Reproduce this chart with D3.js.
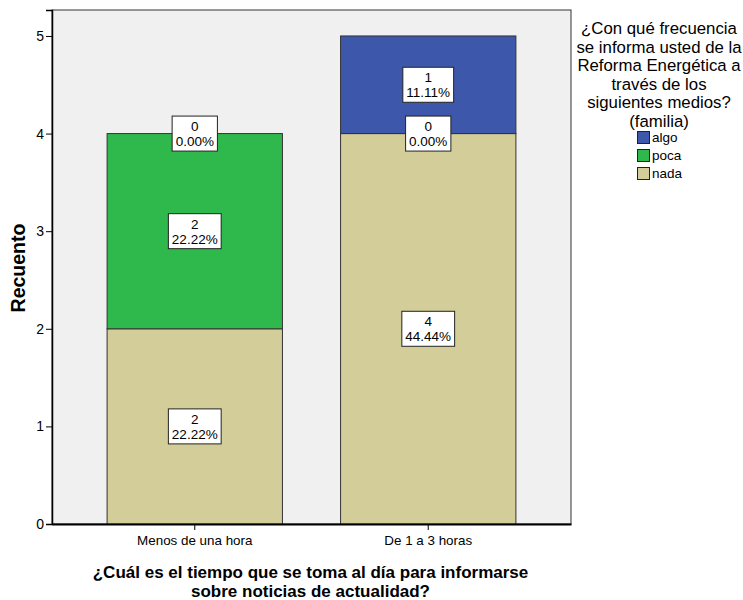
<!DOCTYPE html>
<html><head><meta charset="utf-8">
<script src="https://cdn.jsdelivr.net/npm/d3@7"></script>
<style>body{margin:0;background:#fff}svg{display:block}text{font-family:"Liberation Sans",Arial,sans-serif}</style>
</head><body><svg id="c" width="743" height="600"></svg>
<script>
const categories = ["Menos de una hora", "De 1 a 3 horas"];
const seriesNames = ["nada", "poca", "algo"];
const nada = [2, 4];
const poca = [2, 0];
const algo = [0, 1];
const nadaPct = ["22.22%", "44.44%"];
const pocaPct = ["22.22%", "0.00%"];
const algoPct = ["0.00%", "11.11%"];
const yTicks = [0, 1, 2, 3, 4, 5];
const legendTitle = ["¿Con qué frecuencia", "se informa usted de la", "Reforma Energética a", "través de los", "siguientes medios?", "(familia)"];
const legendItems = ["algo", "poca", "nada"];
const xTitle = ["¿Cuál es el tiempo que se toma al día para informarse", "sobre noticias de actualidad?"];
const yTitle = "Recuento";

const colors = {algo: "#3d58aa", poca: "#2fb84b", nada: "#d3ce99"};
const svg = d3.select("#c");
const L = 52, R = 571, T = 10, B = 524;

const x = d3.scaleBand().domain(categories).range([L, R]).paddingInner(0.249).paddingOuter(0.236);
const y = d3.scaleLinear().domain([0, 5.266]).range([B, T]);

svg.append("rect").attr("x", L).attr("y", T).attr("width", R - L).attr("height", B - T)
  .attr("fill", "#f0f0f0").attr("stroke", "#333").attr("stroke-width", 1);

const data = categories.map((c, i) => ({cat: c, nada: nada[i], poca: poca[i], algo: algo[i],
  pct: {nada: nadaPct[i], poca: pocaPct[i], algo: algoPct[i]}}));
const stack = d3.stack().keys(seriesNames)(data);

stack.forEach(layer => {
  svg.append("g").selectAll("rect").data(layer).join("rect")
    .attr("x", d => x(d.data.cat)).attr("width", x.bandwidth())
    .attr("y", d => y(d[1])).attr("height", d => y(d[0]) - y(d[1]))
    .attr("fill", colors[layer.key]).attr("stroke", "#333").attr("stroke-width", 1)
    .style("display", d => d[1] - d[0] > 0 ? null : "none");
});

// labels
stack.forEach(layer => {
  layer.forEach(d => {
    const v = d[1] - d[0];
    const cy = v > 0 ? y((d[0] + d[1]) / 2) : y(d[1]);
    const cx = x(d.data.cat) + x.bandwidth() / 2;
    const g = svg.append("g");
    const t1 = g.append("text").attr("x", cx).attr("y", cy - 2.5).attr("text-anchor", "middle")
      .attr("font-size", 13.5).attr("fill", "#000").text(v);
    const t2 = g.append("text").attr("x", cx).attr("y", cy + 12.5).attr("text-anchor", "middle")
      .attr("font-size", 13.5).attr("fill", "#000").text(d.data.pct[layer.key]);
    const w = Math.max(t1.node().getComputedTextLength(), t2.node().getComputedTextLength()) + 7;
    g.insert("rect", "text").attr("x", cx - w / 2).attr("y", cy - 17.5).attr("width", w).attr("height", 35)
      .attr("fill", "#fff").attr("stroke", "#222").attr("stroke-width", 1);
  });
});

// axes
const yAxis = svg.append("g").attr("transform", `translate(${L},0)`)
  .call(d3.axisLeft(y).tickValues(yTicks).tickFormat(d3.format("d")).tickSize(6).tickPadding(2));
yAxis.select(".domain").attr("stroke", "#000").attr("stroke-width", 1.5);
yAxis.selectAll("text").attr("font-size", 14).attr("font-family", "Liberation Sans, Arial").attr("fill", "#000");

const xAxis = svg.append("g").attr("transform", `translate(0,${B})`)
  .call(d3.axisBottom(x).tickSize(6).tickPadding(5).tickSizeOuter(0));
xAxis.select(".domain").attr("stroke", "#000").attr("stroke-width", 2);
xAxis.selectAll("text").attr("font-size", 13.4).attr("font-family", "Liberation Sans, Arial").attr("fill", "#000");

// axis titles
svg.append("text").attr("transform", `translate(25,${(T + B) / 2 + 1}) rotate(-90)`).attr("text-anchor", "middle")
  .attr("font-size", 19.5).attr("font-weight", "bold").text(yTitle);
xTitle.forEach((s, i) => {
  svg.append("text").attr("x", (L + R) / 2 - 1).attr("y", 577.5 + i * 19).attr("text-anchor", "middle")
    .attr("font-size", 17).attr("font-weight", "bold").text(s);
});

// legend
legendTitle.forEach((s, i) => {
  svg.append("text").attr("x", 659).attr("y", 34 + i * 18.6).attr("text-anchor", "middle")
    .attr("font-size", 16.8).text(s);
});
legendItems.forEach((s, i) => {
  const yy = 131 + i * 18;
  svg.append("rect").attr("x", 637.5).attr("y", yy + 0.5).attr("width", 12).attr("height", 12)
    .attr("fill", colors[s]).attr("stroke", "#222").attr("stroke-width", 1);
  svg.append("text").attr("x", 652).attr("y", yy + 11).attr("font-size", 13.5).text(s);
});
</script></body></html>
